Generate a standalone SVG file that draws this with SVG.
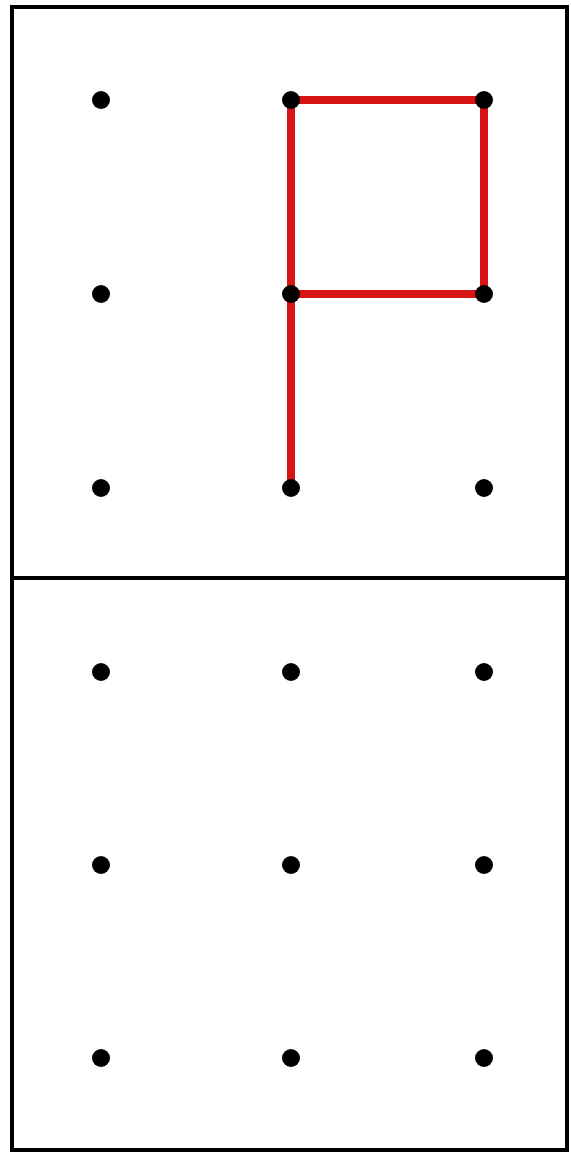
<svg xmlns="http://www.w3.org/2000/svg" width="571" height="1155" viewBox="0 0 571 1155">
<style>
.frame{fill:none;stroke:#000;stroke-width:4}
.dot{fill:#000}
.red{stroke:#d81414;stroke-width:8;stroke-linecap:butt;fill:none}
</style>
<rect x="0" y="0" width="571" height="1155" fill="#fff"/>
<g id="frame">
<rect class="frame" x="12" y="7" width="555" height="1143"/>
<line class="frame" x1="12" y1="578" x2="567" y2="578"/>
</g>
<g id="connectors">
<path class="red" d="M291 100 V488 M291 100 H484 V294 H291"/>
</g>
<g id="top-dots">
<circle class="dot" cx="101" cy="100" r="9"/>
<circle class="dot" cx="291" cy="100" r="9"/>
<circle class="dot" cx="484" cy="100" r="9"/>
<circle class="dot" cx="101" cy="294" r="9"/>
<circle class="dot" cx="291" cy="294" r="9"/>
<circle class="dot" cx="484" cy="294" r="9"/>
<circle class="dot" cx="101" cy="488" r="9"/>
<circle class="dot" cx="291" cy="488" r="9"/>
<circle class="dot" cx="484" cy="488" r="9"/>
</g>
<g id="bottom-dots">
<circle class="dot" cx="101" cy="672" r="9"/>
<circle class="dot" cx="291" cy="672" r="9"/>
<circle class="dot" cx="484" cy="672" r="9"/>
<circle class="dot" cx="101" cy="865" r="9"/>
<circle class="dot" cx="291" cy="865" r="9"/>
<circle class="dot" cx="484" cy="865" r="9"/>
<circle class="dot" cx="101" cy="1058" r="9"/>
<circle class="dot" cx="291" cy="1058" r="9"/>
<circle class="dot" cx="484" cy="1058" r="9"/>
</g>
</svg>
